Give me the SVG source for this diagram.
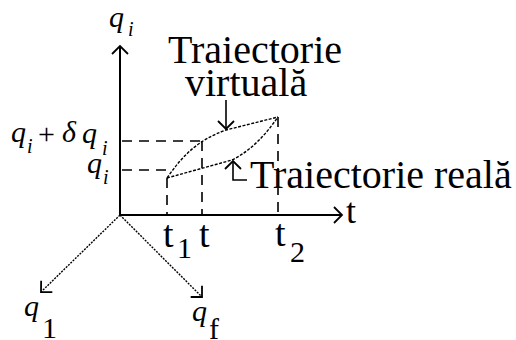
<svg xmlns="http://www.w3.org/2000/svg" width="516" height="340" viewBox="0 0 516 340">
<style>
.ax{stroke:#000;stroke-width:2;fill:none}
.dot{stroke:#000;stroke-width:1.4;fill:none;stroke-dasharray:2 1.2}
.dash{stroke:#000;stroke-width:1.6;fill:none;stroke-dasharray:10 7}
.tr{stroke:#000;stroke-width:1.4;fill:none;stroke-dasharray:3 1.5}
.ln{stroke:#000;stroke-width:1.6;fill:none}
.t{font-family:'Liberation Serif','DejaVu Serif',serif;fill:#000}
.big{font-size:40px}
.qi{font-style:italic;font-size:30px}
.sub{font-style:italic;font-size:20px}
.num{font-size:30px}
</style>
<defs>
<marker id="ah" markerUnits="userSpaceOnUse" markerWidth="20" markerHeight="20" viewBox="-10 -10 20 20" refX="0" refY="0" orient="auto">
<path d="M-8,-8 L0,0 L-8,8" stroke="#000" stroke-width="1.8" fill="none"/>
</marker>
</defs>
<rect width="516" height="340" fill="#fff"/>
<g id="connectors">
<line class="ax" x1="120" y1="215" x2="120" y2="46" marker-end="url(#ah)"/>
<line class="ax" x1="120" y1="215" x2="342" y2="215" marker-end="url(#ah)"/>
<line class="dot" x1="120" y1="215" x2="41" y2="292" marker-end="url(#ah)"/>
<line class="dot" x1="120" y1="215" x2="202" y2="297" marker-end="url(#ah)"/>
<line class="dash" x1="122" y1="141" x2="202" y2="141"/>
<line class="dash" x1="122" y1="170" x2="167" y2="170"/>
<line class="dash" x1="167" y1="178" x2="167" y2="214"/>
<line class="dash" x1="202" y1="141" x2="202" y2="214"/>
<line class="dash" x1="278" y1="117" x2="278" y2="214"/>
<path class="tr" d="M167,178 C183,155 198,140 226,130 L278,117"/>
<path class="tr" d="M167,178 L232,160 C252,150 266,134 278,117"/>
<line class="ln" x1="226" y1="100" x2="226" y2="129" marker-end="url(#ah)"/>
<path class="ln" d="M247,180 L233,180 L233,161" marker-end="url(#ah)"/>
</g>
<g id="label-qi">
<text class="t qi" x="109" y="27">q</text><text class="t sub" x="128" y="36">i</text>
</g>
<g id="label-qi-dqi">
<text class="t qi" x="11" y="142">q</text><text class="t sub" x="27" y="153">i</text>
<text class="t num" x="38" y="144" font-size="28">+</text>
<text class="t qi" x="62" y="142">δ</text><text class="t qi" x="82" y="143">q</text><text class="t sub" x="102" y="155">i</text>
</g>
<g id="label-qi2">
<text class="t qi" x="87" y="173">q</text><text class="t sub" x="103" y="184">i</text>
</g>
<g id="label-virtual">
<text class="t big" x="168" y="63">Traiectorie</text>
<text class="t big" x="185" y="96">virtuală</text>
</g>
<g id="label-real">
<text class="t big" x="250" y="188">Traiectorie reală</text>
</g>
<g id="label-t">
<text class="t" x="346" y="223" font-size="36">t</text>
<text class="t" x="163" y="247" font-size="38">t</text><text class="t num" x="177" y="258">1</text>
<text class="t" x="199" y="247" font-size="38">t</text>
<text class="t" x="275" y="246" font-size="38">t</text><text class="t num" x="290" y="262">2</text>
</g>
<g id="label-q1">
<text class="t qi" x="24" y="316">q</text><text class="t num" x="42" y="338">1</text>
</g>
<g id="label-qf">
<text class="t qi" x="192" y="321">q</text><text class="t num" x="209" y="339">f</text>
</g>
</svg>
